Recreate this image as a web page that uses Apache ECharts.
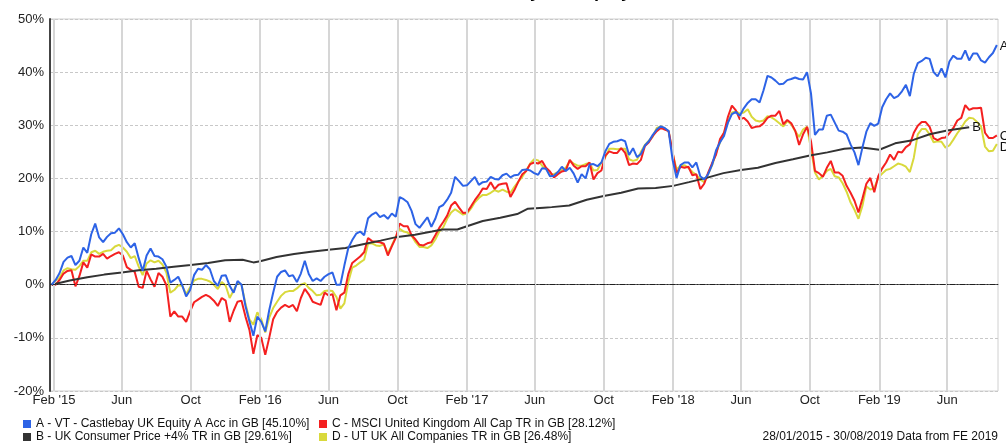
<!DOCTYPE html>
<html>
<head>
<meta charset="utf-8">
<script src="https://cdn.jsdelivr.net/npm/echarts@6/dist/echarts.min.js"></script>
<style>
html,body{margin:0;padding:0;background:#fff;}
#chart{width:1006px;height:443px;}
</style>
</head>
<body>
<div id="chart"></div>
<script>
// ---------- data ----------
const titleText = 'Performance of VT Castlebay UK Equity Fund';
const footerText = '28/01/2015 - 30/08/2019 Data from FE 2019';
const nameA = 'A - VT - Castlebay UK Equity A Acc in GB [45.10%]';
const nameB = 'B - UK Consumer Price +4% TR in GB [29.61%]';
const nameC = 'C - MSCI United Kingdom All Cap TR in GB [28.12%]';
const nameD = 'D - UT UK All Companies TR in GB [26.48%]';

// weekly observations starting 28/01/2015
const firstObs = [2015, 0, 28];
const obsStepDays = 7;

const valuesA = [
0,0.9,2.2,4.3,5.1,5.4,3.7,4.5,7.0,6.0,
9.5,11.5,8.9,8.0,9.0,9.7,9.8,10.6,9.5,8.0,
7.0,7.8,5.0,2.6,5.5,6.8,5.4,5.3,4.8,3.4,
0.4,0.9,1.5,-0.1,-2.2,-1.0,1.8,3.0,2.8,3.7,
2.9,0.7,-0.2,1.7,1.8,-0.2,-1.5,0.7,0.0,-4.0,
-6.9,-9.6,-6.0,-7.0,-8.8,-4.8,-1.5,1.5,2.4,2.7,
1.6,1.8,0.5,2.1,4.5,2.0,0.7,1.2,0.7,1.5,
2.0,2.3,0.0,0.0,3.6,6.9,8.4,9.6,10.0,9.3,
12.5,13.2,13.6,12.7,13.1,12.4,13.4,12.8,16.5,16.1,
15.5,13.9,11.4,10.7,11.7,12.7,10.9,12.4,14.6,15.0,
16.0,17.3,20.3,19.5,18.6,18.7,19.5,20.3,18.8,19.3,
19.4,20.3,19.9,19.8,20.6,20.9,20.2,20.6,20.7,21.6,
21.7,21.5,21.0,20.7,21.9,21.8,20.4,20.5,21.2,22.2,
21.4,22.0,20.9,19.2,20.8,20.0,22.6,22.7,22.3,23.0,
25.1,26.5,26.9,27.0,27.3,27.0,24.4,25.7,24.0,24.6,
26.2,27.0,28.2,29.2,29.8,29.5,28.9,23.5,20.1,22.5,
23.0,23.0,22.1,23.0,20.4,19.8,20.8,22.6,25.3,26.8,
28.0,30.5,32.1,32.5,31.8,33.2,34.2,34.9,34.9,34.3,
36.6,39.3,39.0,38.4,37.7,37.8,38.5,38.7,39.0,38.7,
38.6,40.0,36.0,28.2,29.2,29.2,31.8,32.0,30.5,29.0,
28.8,28.3,26.4,24.9,22.5,25.8,28.8,30.4,29.9,30.3,
33.4,34.9,36.0,35.1,35.5,36.4,37.6,35.5,39.7,41.7,
42.1,42.7,42.5,40.0,39.2,40.7,39.0,42.0,43.1,42.5,
42.5,44.1,42.2,43.5,43.5,42.2,41.8,42.8,43.6,45.1
];

const valuesC = [
0,0.0,0.9,2.1,2.6,2.7,-0.3,1.6,4.2,3.2,
5.7,5.3,5.3,5.8,4.9,5.4,5.8,6.1,5.5,3.3,
2.8,2.4,-0.4,-0.6,2.6,1.0,-0.4,2.2,1.5,-0.1,
-6.0,-5.0,-6.0,-6.0,-7.0,-5.0,-3.3,-2.8,-2.3,-1.9,
-2.3,-3.0,-4.0,-2.5,-3.0,-7.0,-4.9,-3.2,-3.0,-6.0,
-8.5,-13.0,-9.5,-10.0,-13.2,-10.0,-6.5,-5.1,-4.3,-3.8,
-4.2,-3.8,-5.0,-2.5,-0.8,-1.8,-3.2,-3.5,-3.8,-1.5,
-2.0,-1.8,-4.8,-2.0,-1.5,2.0,4.1,4.7,5.3,6.1,
8.8,8.2,8.1,8.0,7.7,5.5,7.2,8.8,11.5,11.0,
11.0,9.3,8.5,7.5,7.4,7.8,8.0,9.3,10.7,11.8,
13.0,14.9,15.6,14.5,13.5,13.6,14.7,15.9,16.9,18.1,
18.0,19.3,18.0,18.8,19.0,19.1,16.5,17.8,19.4,20.8,
21.4,22.7,23.0,22.8,23.3,22.0,21.3,20.2,20.8,21.3,
21.5,23.5,22.4,21.8,22.3,22.3,23.0,19.8,21.0,21.5,
24.3,25.1,24.8,24.8,25.7,24.8,22.5,22.8,22.7,23.5,
26.1,26.8,28.0,28.9,29.5,29.2,28.9,25.0,21.0,22.2,
22.0,22.2,20.6,20.8,18.0,19.0,21.1,22.9,24.5,27.4,
28.6,31.6,33.7,32.8,31.1,31.4,30.7,29.5,29.7,29.8,
30.4,31.4,31.8,31.8,32.7,30.2,31.0,30.4,29.0,26.3,
28.3,29.7,27.0,21.4,21.0,20.3,22.0,23.3,21.1,21.1,
20.5,18.6,17.3,15.8,13.6,16.2,19.0,20.1,17.4,20.4,
21.9,23.0,24.5,23.5,25.0,24.9,25.9,26.4,28.6,29.9,
30.6,30.6,29.7,27.6,27.2,27.6,27.7,28.5,29.5,30.9,
31.4,33.8,32.9,33.2,33.2,33.3,28.6,27.6,27.6,28.1
];

const valuesD = [
0,0.8,1.3,2.7,3.1,2.9,2.8,3.5,4.5,4.5,
6.1,6.4,5.8,6.2,6.4,6.5,7.2,7.5,7.0,6.2,
5.0,5.4,3.4,1.8,4.0,4.6,4.2,4.5,3.8,2.3,
-1.5,-1.0,-0.1,-0.2,-1.8,-0.5,0.8,1.1,1.1,0.9,
0.6,0.0,-0.8,0.5,-0.2,-2.5,-1.1,0.5,0.0,-3.6,
-6.5,-7.5,-5.2,-6.5,-9.0,-6.2,-4.4,-3.2,-2.1,-1.4,
-1.2,-1.2,-0.7,0.0,0.3,-0.6,-1.2,-2.0,-1.9,-1.2,
-1.1,-1.2,-2.3,-4.5,-3.5,0.5,3.2,3.6,4.2,4.7,
7.7,7.8,7.4,7.3,7.6,5.9,7.4,9.0,10.5,10.0,
9.8,9.2,8.0,7.1,7.1,6.9,7.4,8.5,10.0,10.8,
12.4,13.6,14.2,13.7,13.2,13.4,14.3,15.5,16.3,16.9,
16.9,17.3,17.8,17.5,17.9,17.5,17.3,18.4,19.4,20.3,
21.5,22.8,23.6,23.4,22.4,21.8,20.8,20.8,21.2,21.6,
22.0,23.3,22.8,22.4,22.4,22.7,22.9,21.5,21.6,23.0,
24.0,25.6,25.6,25.5,25.6,25.6,23.6,23.3,23.5,25.0,
26.3,27.1,27.9,29.5,29.8,29.4,28.9,24.8,21.7,22.4,
22.5,22.0,21.2,20.7,19.8,19.3,20.8,22.5,24.8,26.8,
28.6,30.6,32.4,32.6,32.2,32.4,33.0,31.6,30.9,30.7,
30.9,31.7,31.5,31.0,30.4,29.8,30.8,30.2,28.9,27.8,
29.2,29.7,25.5,21.1,19.8,20.5,21.4,21.8,20.4,20.2,
19.1,17.5,15.5,14.1,12.4,14.8,18.5,17.9,18.2,20.1,
20.9,21.6,21.8,22.3,22.8,22.6,22.2,21.2,23.9,28.3,
29.3,29.3,28.3,26.8,27.0,26.9,25.8,26.2,27.3,28.5,
29.5,30.7,31.4,31.3,30.6,29.8,26.0,25.1,25.2,26.5
];

// monthly benchmark (B)
const datesB = [
'2015-01-28','2015-03-01','2015-04-01','2015-05-01','2015-06-01','2015-07-01','2015-08-01','2015-09-01','2015-10-01','2015-11-01','2015-12-01',
'2016-01-01','2016-01-20','2016-02-01','2016-03-01','2016-04-01','2016-05-01','2016-06-01','2016-07-01','2016-08-01','2016-09-01','2016-10-01','2016-11-01','2016-12-01','2016-12-20',
'2017-01-15','2017-02-01','2017-03-01','2017-04-01','2017-05-01','2017-05-20','2017-06-17','2017-07-01','2017-08-01','2017-09-01','2017-10-01','2017-11-01','2017-12-01',
'2018-01-01','2018-02-01','2018-03-01','2018-04-01','2018-05-01','2018-06-01','2018-07-01','2018-08-01','2018-09-01','2018-10-01','2018-11-01','2018-12-01',
'2019-01-01','2019-02-01','2019-03-01','2019-04-01','2019-05-01','2019-06-01','2019-07-10'
];
const valuesB = [
0,0.8,1.4,1.9,2.3,2.7,3.0,3.4,3.7,4.1,4.6,
4.7,4.2,4.4,5.2,5.8,6.2,6.6,6.9,7.6,8.3,9.0,9.4,10.0,10.4,
10.4,11.0,12.0,12.6,13.3,14.3,14.5,14.6,14.9,16.0,16.7,17.3,18.1,
18.2,18.6,19.3,20.1,21.0,21.6,22.0,22.9,23.6,24.3,24.9,25.6,
25.8,25.4,26.6,27.2,28.3,29.0,29.61
];

const tickDates = ['2015-02-01','2015-06-01','2015-10-01','2016-02-01','2016-06-01','2016-10-01','2017-02-01','2017-06-01','2017-10-01','2018-02-01','2018-06-01','2018-10-01','2019-02-01','2019-06-01'];
const tickLabels = ["Feb '15",'Jun','Oct',"Feb '16",'Jun','Oct',"Feb '17",'Jun','Oct',"Feb '18",'Jun','Oct',"Feb '19",'Jun'];
const yTicks = [-20,-10,0,10,20,30,40,50];
const axisStart = '2015-01-25';
const axisEnd = '2019-08-30';

// ---------- helpers ----------
function ts(s){const p=s.split('-').map(Number);return new Date(p[0],p[1]-1,p[2]).getTime();}
function weekly(vals){return vals.map((v,k)=>[new Date(firstObs[0],firstObs[1],firstObs[2]+obsStepDays*k).getTime(),v]);}
const tickTs = tickDates.map(ts);
const dataB = datesB.map((d,i)=>[ts(d),valuesB[i]]);

const FONT = "'Liberation Sans', Arial, sans-serif";
const colA = '#2d63e6', colB = '#333333', colC = '#f42020', colD = '#d9d93c';

function lineSeries(name, data, color, label, z, labelOffset){
  return {
    name, type:'line', data, color, z,
    showSymbol:false, symbol:'none', silent:true,
    lineStyle:{width:2, color},
    endLabel:{show:true, formatter:label, color:'#111', fontSize:13, fontFamily:FONT, distance:3, offset:labelOffset||[0,0]},
    emphasis:{disabled:true}
  };
}

const legendBase = {icon:'rect', itemWidth:8, itemHeight:8, padding:0, itemGap:0, selectedMode:false,
  textStyle:{fontSize:12, color:'#111', fontFamily:FONT}};

const chart = echarts.init(document.getElementById('chart'), null, {renderer:'canvas'});
chart.setOption({
  animation:false,
  backgroundColor:'#ffffff',
  textStyle:{fontFamily:FONT},
  grid:{left:50, right:8, top:19, bottom:52, show:true, borderColor:'#d0d0d0', borderWidth:1},
  xAxis:{
    type:'value', min:ts(axisStart), max:ts(axisEnd), scale:true,
    axisLine:{show:true, lineStyle:{color:'#555', width:1}},
    axisTick:{show:false},
    splitLine:{show:false},
    axisLabel:{customValues:tickTs, color:'#222', fontSize:13, fontFamily:FONT, margin:3, hideOverlap:false,
      showMinLabel:true, showMaxLabel:true,
      formatter:function(v){
        let best=-1, bd=1e18;
        tickTs.forEach((t,i)=>{const d=Math.abs(t-v); if(d<bd){bd=d;best=i;}});
        return bd<3*86400000 ? tickLabels[best] : '';
      }}
  },
  yAxis:{
    type:'value', min:yTicks[0], max:yTicks[yTicks.length-1], interval:10,
    axisLine:{show:true, lineStyle:{color:'#444', width:2}},
    axisTick:{show:false},
    axisLabel:{color:'#222', fontSize:13, fontFamily:FONT, margin:6, formatter:'{value}%'},
    splitLine:{show:true, lineStyle:{color:'#c8c8c8', width:1, type:[3,2]}}
  },
  legend:[
    Object.assign({}, legendBase, {data:[nameA], left:23, top:418}),
    Object.assign({}, legendBase, {data:[nameC], left:319, top:418}),
    Object.assign({}, legendBase, {data:[nameB], left:23, top:431}),
    Object.assign({}, legendBase, {data:[nameD], left:319, top:431})
  ],
  graphic:[
    {type:'text', left:290, top:-17, silent:true,
      style:{text:titleText, font:"bold 18px "+FONT, fill:'#000'}},
    {type:'text', right:8, top:431, silent:true,
      style:{text:footerText, font:"12px "+FONT, fill:'#111'}}
  ],
  series:[
    {
      name:'grid', type:'line', data:[], silent:true, z:1,
      markLine:{silent:true, symbol:['none','none'], label:{show:false},
        emphasis:{disabled:true},
        data:[
          ...tickTs.map(t=>({xAxis:t, lineStyle:{color:'#d6d6d6', width:2, type:'solid'}})),
          {yAxis:0, lineStyle:{color:'#222', width:1, type:[5,2,1,2]}}
        ]}
    },
    lineSeries(nameD, weekly(valuesD), colD, 'D', 2, [0,4]),
    lineSeries(nameC, weekly(valuesC), colC, 'C', 3, [0,1]),
    lineSeries(nameB, dataB, colB, 'B', 4, [0,0]),
    lineSeries(nameA, weekly(valuesA), colA, 'A', 5, [0,1])
  ]
});
</script>
</body>
</html>
